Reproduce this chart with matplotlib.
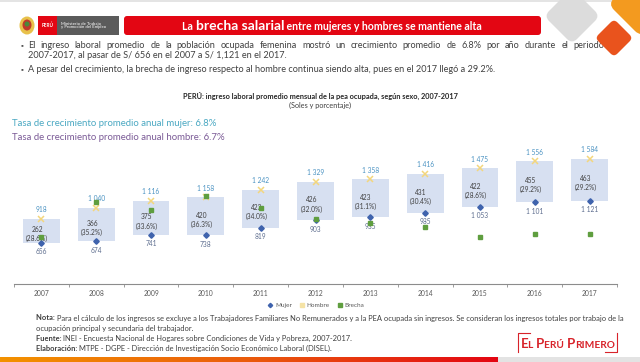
import matplotlib
matplotlib.use("Agg")
import numpy as np
import matplotlib.pyplot as plt
from matplotlib.patches import FancyBboxPatch, Rectangle, Ellipse
from matplotlib.lines import Line2D
from matplotlib.transforms import Affine2D

plt.rcParams['font.family'] = ['Lato', 'DejaVu Sans']

# datos del grafico
years = ['2007', '2008', '2009', '2010', '2011', '2012', '2013', '2014', '2015', '2016', '2017']
mujer = [656, 674, 741, 738, 819, 903, 935, 985, 1053, 1101, 1121]
hombre = [918, 1040, 1116, 1158, 1242, 1329, 1358, 1416, 1475, 1556, 1584]
brecha = [262, 366, 375, 420, 423, 426, 423, 431, 422, 455, 463]
brecha_pct = [28.6, 35.2, 33.6, 36.3, 34.0, 32.0, 31.1, 30.4, 28.6, 29.2, 29.2]

titulo = ['La ', 'brecha salarial', ' entre mujeres y hombres se mantiene alta']
bullet1 = ("El ingreso laboral promedio de la población ocupada femenina mostró un crecimiento "
           "promedio de 6.8% por año durante el periodo")
bullet1b = "2007-2017, al pasar de S/ 656 en el 2007 a S/ 1,121 en el 2017."
bullet2 = ("A pesar del crecimiento, la brecha de ingreso respecto al hombre continua siendo alta, "
           "pues en el 2017 llegó a 29.2%.")
graf_titulo = "PERÚ: ingreso laboral promedio mensual de la pea ocupada, según sexo, 2007-2017"
graf_sub = "(Soles y porcentaje)"
tasa_m = "Tasa de crecimiento promedio anual mujer: 6.8%"
tasa_h = "Tasa de crecimiento promedio anual hombre: 6.7%"
notas = [("Nota: ", "Para el cálculo de los ingresos se excluye a los Trabajadores Familiares No Remunerados y a la PEA "
                    "ocupada sin ingresos. Se consideran los ingresos totales por trabajo de la"),
         ("", "ocupación principal y secundaria del trabajador."),
         ("Fuente: ", "INEI - Encuesta Nacional de Hogares sobre Condiciones de Vida y Pobreza, 2007-2017."),
         ("Elaboración: ", "MTPE - DGPE - Dirección de Investigación Socio Económico Laboral (DISEL).")]

W, H = 640, 362
fig = plt.figure(figsize=(6.4, 3.62), dpi=100)
fig.patch.set_facecolor('white')

# capa de fondo en pixeles
bg = fig.add_axes([0, 0, 1, 1])
bg.set_xlim(0, W)
bg.set_ylim(H, 0)
bg.axis('off')
r = fig.canvas.get_renderer()

def ancho(t):
    return t.get_window_extent(r).width

txt_col = '#404040'

# linea superior
bg.add_patch(Rectangle((0, 0), W, 2, color='#e4e4e4', lw=0))

# logo ministerio
bg.add_patch(Ellipse((27, 25.5), 15, 18, color='#e8c14a', lw=0))
bg.add_patch(Ellipse((27, 25), 9, 11, color='#c0392b', lw=0))
bg.add_patch(Ellipse((27, 24), 5, 5, color='#4a8a3a', lw=0))
bg.add_patch(Rectangle((38, 16), 19, 19, color='#e30613', lw=0))
bg.text(47.5, 25.5, 'PERÚ', color='white', fontsize=3.3, ha='center', va='center', fontweight='bold')
bg.add_patch(Rectangle((57, 16), 62, 19, color='#5b5b5b', lw=0))
bg.text(61, 25.5, 'Ministerio de Trabajo\ny Promoción del Empleo', color='white', fontsize=3.1,
        ha='left', va='center', linespacing=0.95)

# caja roja del titulo
bg.add_patch(FancyBboxPatch((124, 16), 417, 19, boxstyle='round,pad=0,rounding_size=3',
                            color='#e30613', lw=0))
piezas = []
for s, fs in zip(titulo, [7.6, 10, 7.6]):
    piezas.append(bg.text(0, 29.5, s, color='white', fontsize=fs, fontweight='bold', va='baseline'))
tot = sum(ancho(p) for p in piezas)
x = 332 - tot / 2
for p in piezas:
    p.set_x(x)
    x += ancho(p)

# diamantes decorativos
def diamante(cx, cy, half, color, z=5):
    s = half * 2 / np.sqrt(2)
    p = FancyBboxPatch((cx - s / 2, cy - s / 2), s, s, boxstyle='round,pad=0,rounding_size=%f' % (s * 0.18),
                       color=color, lw=0, zorder=z)
    p.set_transform(Affine2D().rotate_deg_around(cx, cy, 45) + bg.transData)
    bg.add_patch(p)

diamante(572, 16, 28, '#dcdcdc')
diamante(641, 4, 33, '#f39a1f')
diamante(614, 38, 19, '#e9531d', z=6)

# viñetas
def justificar(texto, x0, x1, y, **kw):
    arts = [bg.text(0, y, w, **kw) for w in texto.split()]
    ws = [ancho(a) for a in arts]
    gap = (x1 - x0 - sum(ws)) / (len(arts) - 1)
    x = x0
    for a, w in zip(arts, ws):
        a.set_x(x)
        x += w + gap

bkw = dict(fontsize=6.6, color=txt_col, va='center')
bg.text(22, 45, '▪', fontsize=5, color='#555555', va='center', ha='center')
justificar(bullet1, 28, 604, 45, **bkw)
bg.text(28, 56, bullet1b, **bkw)
bg.text(22, 69, '▪', fontsize=5, color='#555555', va='center', ha='center')
bg.text(28, 69, bullet2, **bkw)

# titulos del grafico
bg.text(320, 96, graf_titulo, fontsize=5.3, fontweight='bold', color='#262626', ha='center', va='center')
bg.text(320, 105, graf_sub, fontsize=5.2, color='#404040', ha='center', va='center')
bg.text(12, 124, tasa_m, fontsize=6.9, color='#4aa8c2', va='center')
bg.text(12, 138, tasa_h, fontsize=6.9, color='#7a5a96', va='center')

# notas
y = 318
for neg, rest in notas:
    t1 = bg.text(36, y, neg, fontsize=5.4, fontweight='bold', color=txt_col, va='center')
    bg.text(36 + ancho(t1), y, rest, fontsize=5.4, color=txt_col, va='center')
    y += 10.3

# logo el peru primero
rojo = '#d8232a'
bg.plot([518, 518, 530], [352, 333, 333], color=rojo, lw=0.8)
bg.plot([605, 617, 617], [352, 352, 333], color=rojo, lw=0.8)
piezas = []
for s, fs in [('E', 9.5), ('L ', 7.3), ('P', 9.5), ('ERÚ ', 7.3), ('P', 9.5), ('RIMERO', 7.3)]:
    piezas.append(bg.text(0, 347.5, s, color=rojo, fontsize=fs, fontweight='bold', va='baseline'))
tot = sum(ancho(p) for p in piezas)
x = 567.5 - tot / 2
for p in piezas:
    p.set_x(x)
    x += ancho(p)

# barra inferior
grad = np.linspace(0, 1, 256).reshape(1, -1)
cmap = matplotlib.colors.LinearSegmentedColormap.from_list('g', ['#f39200', '#ea5b0c', '#e30613'])
bg.imshow(grad, extent=[0, 498, 362, 357], aspect='auto', cmap=cmap, zorder=3)
bg.add_patch(Rectangle((498, 357), 142, 5, color='#e3e3e3', lw=0, zorder=3))
bg.set_xlim(0, W)
bg.set_ylim(H, 0)

# grafico
ax = fig.add_axes([14 / W, 1 - 284 / H, 603 / W, 145 / H])
ax.patch.set_alpha(0)
xs = np.arange(len(years))
m = np.array(mujer)
h = np.array(hombre)
ax.bar(xs, h - m, bottom=m, width=0.67, color='#d7e0f1', zorder=1)
ax.plot(xs, m, 'D', color='#3f63ad', ms=2.8, zorder=3)
ax.plot(xs, h, 'x', color='#f3d67d', ms=4.5, mew=1.1, zorder=3)
ax.set_xlim(-0.5, len(years) - 0.5)
ax.set_ylim(200, 1800)

def fmt(v):
    return '{:,}'.format(v).replace(',', ' ')

for i in xs:
    ax.annotate(fmt(hombre[i]), (i, hombre[i]), xytext=(0, 6.5), textcoords='offset points',
                ha='center', va='center', fontsize=4.8, color='#4a92c2', zorder=4)
    ax.annotate(fmt(mujer[i]), (i, mujer[i]), xytext=(0, -6.5), textcoords='offset points',
                ha='center', va='center', fontsize=4.8, color='#5d6d8e', zorder=4)
    ax.annotate('%d\n(%.1f%%)' % (brecha[i], brecha_pct[i]), (i, (mujer[i] + hombre[i]) / 2),
                xytext=(-3, -2.5), textcoords='offset points', ha='center', va='center',
                fontsize=4.8, color='#404040', linespacing=1.35, zorder=4)

ax2 = ax.twinx()
ax2.set_ylim(0.197, 0.47)
ax2.plot(xs, np.array(brecha_pct) / 100, 's', color='#5f9e3f', ms=2.4, zorder=3)
ax2.axis('off')

for s in ['top', 'right', 'left']:
    ax.spines[s].set_visible(False)
ax.spines['bottom'].set_color('#8c8c8c')
ax.spines['bottom'].set_linewidth(0.8)
ax.set_yticks([])
ax.set_xticks(xs)
ax.set_xticklabels(years, fontsize=4.9, color='#595959')
ax.tick_params(axis='x', length=0, pad=4.5)
ax.set_xticks(np.arange(-0.5, len(years)), minor=True)
ax.tick_params(axis='x', which='minor', length=2.5, width=0.6, color='#8c8c8c', direction='out')

# leyenda
hs = [Line2D([], [], marker='D', ls='', color='#3f63ad', ms=2.2),
      Line2D([], [], marker='s', ls='', color='#f5e3a6', ms=3),
      Line2D([], [], marker='s', ls='', color='#5f9e3f', ms=2.2)]
fig.legend(hs, ['Mujer', 'Hombre', 'Brecha'], loc='center', bbox_to_anchor=(316 / W, 1 - 305 / H),
           ncol=3, frameon=False, fontsize=4.6, handlelength=0.8, handletextpad=0.3,
           columnspacing=1.2, labelcolor='#595959')

fig.savefig('out.png', dpi=100, facecolor='white')
